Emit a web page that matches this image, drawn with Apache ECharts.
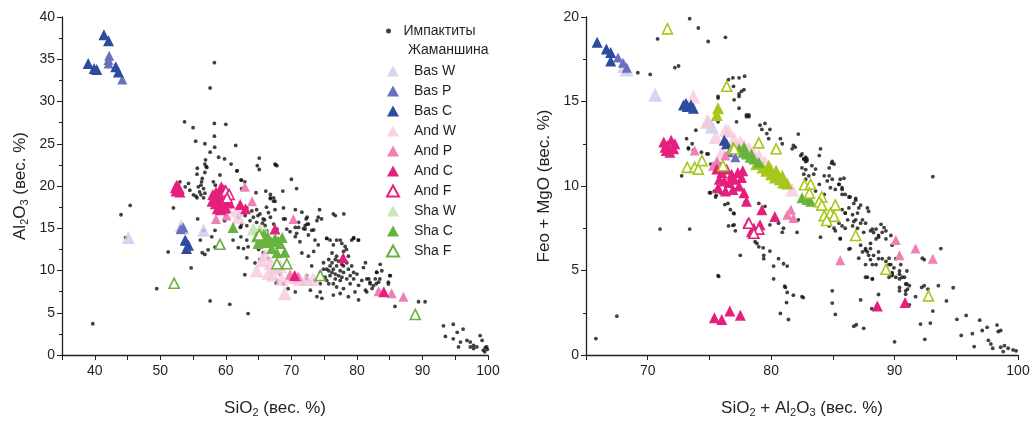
<!DOCTYPE html>
<html lang="ru">
<head>
<meta charset="UTF-8">
<title>Импактиты и жаманшины</title>
<script src="https://cdn.jsdelivr.net/npm/echarts@6/dist/echarts.min.js"></script>
<style>
html,body{margin:0;padding:0;background:#fff}
#chartBox{width:1034px;height:423px}
</style>
</head>
<body>
<div id="chartBox"></div>
<script>
// ---- левая панель: SiO2 / Al2O3 ----
const impLeft = [
 [58.25,34.6],[57.6,31.6],[53.7,27.6],[55.0,26.9],[58.25,27.4],[60.0,27.3],[58.25,25.9],[55.4,25.3],[56.8,25.0],[58.3,24.6],
 [61.5,24.8],[57.6,24.0],[58.9,23.4],[59.8,23.2],[56.9,23.1],[56.8,22.6],[57.0,22.3],[55.65,22.1],[55.6,21.4],[60.8,22.6],
 [65.1,23.3],[64.8,22.4],[65.1,21.95],[67.5,22.6],[67.8,22.4],[67.6,22.5],[61.7,21.8],[59.1,21.3],[56.8,21.6],[57.1,22.2],
 [56.4,20.9],[56.3,20.5],[56.2,20.1],[56.6,19.7],[56.0,19.3],[56.2,18.96],[55.45,18.8],[55.05,18.96],[55.6,18.6],[56.6,18.6],
 [56.8,19.15],[55.8,19.9],[54.3,20.3],[53.8,19.9],[53.0,20.5],[58.1,20.5],[58.4,20.1],[54.5,19.5],
 [62.4,20.7],[62.9,20.5],[62.4,19.7],[64.6,19.2],[66.1,19.4],[66.8,19.0],[67.3,18.6],[66.8,18.5],[67.5,18.2],[68.7,19.4],
 [70.0,20.8],[70.8,19.7],[52.0,17.4],[62.3,20.7],[61.7,21.8],
 [63.2,17.4],[63.96,17.05],[64.7,17.2],[65.2,16.7],[64.2,16.3],[63.7,15.9],[64.7,15.7],[65.7,16.1],[66.5,16.85],[66.8,16.3],
 [67.3,15.5],[67.5,17.2],[66.0,15.3],[65.2,14.7],[66.25,14.7],[67.8,14.9],[62.94,16.5],[63.2,15.3],[61.9,16.3],[62.3,15.2],
 [68.8,17.4],[69.05,16.1],[70.6,17.2],[71.1,15.7],[72.4,15.5],[72.25,16.1],[74.3,17.2],[74.1,16.3],[74.6,16.1],[76.4,16.7],
 [76.7,16.5],[66.8,18.6],[67.3,18.2],[65.9,16.0],[64.9,16.5],[66.2,17.5],[65.6,15.6],
 [71.6,16.9],[72.4,16.3],[68.8,16.1],[69.3,14.9],[70.6,15.1],[70.8,14.4],[72.1,14.9],[73.6,13.6],[75.4,13.8],[76.9,13.6],
 [44.0,16.6],[45.4,17.7],[44.7,13.9],[49.45,7.85],[51.2,12.2],[54.7,10.3],[55.7,16.1],[56.6,14.75],[56.1,13.6],[56.4,12.1],
 [56.8,11.9],[57.3,12.45],[58.35,12.76],[57.85,13.98],[58.35,14.75],[59.4,17.2],[59.8,15.9],[61.9,12.7],[62.7,12.6],[62.3,13.98],
 [63.2,11.5],[63.4,12.8],[62.9,9.5],[61.1,13.6],[62.2,15.1],[67.7,8.5],[57.6,6.4],[60.6,6.0],[63.4,4.9],[39.7,3.7],
 [62.4,15.5],[65.2,14.4],[65.5,13.2],[66.2,13.6],[65.0,12.5],[65.7,12.1],[65.2,11.3],[66.5,11.4],[64.45,10.9],[67.8,10.2],
 [68.3,9.6],[67.8,8.8],[68.8,8.4],[69.8,9.0],[70.6,8.6],[71.8,8.4],[72.3,9.0],[69.5,7.85],[70.6,7.47],[63.2,13.6],
 [69.8,14.6],[70.6,14.0],[71.3,13.4],[72.6,14.2],[73.4,14.8],[73.9,15.9],[72.1,15.3],[71.1,15.1],[78.0,16.7],[79.5,13.8],
 [79.2,13.6],[80.2,13.6],[78.4,12.5],
 [71.85,14.95],[72.6,15.5],[73.1,14.75],[71.6,12.07],[73.4,12.26],[75.4,13.8],[75.9,13.6],[76.4,13.03],[77.45,13.6],[77.7,13.2],
 [78.2,12.84],[79.5,13.9],[80.25,13.6],[77.95,12.26],[76.9,11.69],[76.2,12.07],[75.7,11.3],[74.9,10.92],[75.4,10.16],[75.9,10.54],
 [76.4,10.16],[76.9,10.54],[77.45,9.97],[76.7,9.58],[75.9,9.39],[75.15,9.2],[74.4,9.77],[77.95,9.77],[78.7,10.16],[78.97,9.39],
 [78.45,9.0],[77.45,8.82],[76.4,8.43],[75.7,8.43],[74.4,8.43],[76.9,8.05],[77.95,7.86],[78.97,8.43],[79.5,9.0],[80.0,9.58],
 [81.0,10.35],[81.3,10.92],[80.75,8.82],[80.25,8.24],[79.7,7.47],[81.8,9.0],[82.0,8.43],[82.8,9.0],[83.05,9.77],[83.55,10.73],
 [83.3,8.62],[83.8,9.97],[82.3,7.86],[81.3,7.67],[78.7,6.9],[76.4,7.09],[74.4,7.47],[73.9,6.9],[74.65,6.71],[77.45,7.28],
 [80.25,6.52],[81.5,7.47],[85.1,9.39],[84.8,8.62],[82.95,8.43],[72.6,11.69],[73.1,10.54],[72.35,9.39],[73.6,8.82],[72.9,7.67],
 [78.7,11.69],[74.1,13.03],[76.2,10.92],[76.7,11.3],[77.2,11.1],[77.7,10.73],[75.7,9.97],[76.2,9.77],[77.2,9.39],[77.7,9.2],
 [76.7,9.0],[75.4,8.82],[74.9,10.16],[77.95,10.54],[78.45,10.92],[79.2,10.54],[79.5,9.77],
 [83.0,9.8],[83.5,9.0],[84.8,8.4],[85.0,9.4],[82.5,8.2],[82.0,8.6],[81.5,9.0],[83.3,7.65],[85.8,5.75],[89.4,6.3],[90.4,6.3],
 [93.2,3.45],[94.7,3.64],[96.2,3.07],[93.5,2.2],[95.3,2.68],[94.7,1.92],[95.8,1.53],[96.8,1.72],[95.5,0.95],[97.3,1.53],
 [97.8,1.15],[98.8,2.3],[99.1,1.72],[98.3,0.95],[99.8,0.95],[99.9,0.66],[99.3,0.57],[97.3,0.95],[97.8,0.77],[99.6,0.9],[99.5,0.38]
];
const basWLeft = [[45.1,13.9],[53.5,15.0],[53.2,15.3],[56.6,14.75]];
const basPLeft = [[42.2,35.4],[42.1,34.9],[42.1,34.5],[44.2,32.6],[53.5,15.1],[53.9,13.5],[53.1,14.9]];
const basCLeft = [[39.0,34.5],[39.9,33.9],[40.3,33.8],[41.4,37.9],[42.1,37.2],[43.2,34.1],[43.6,33.5],[53.8,13.6],[54.3,13.0],[54.0,12.6]];
const andWLeft = [[64.7,10.0],[69.0,7.3],[68.3,10.5],[69.8,9.4],[71.3,9.0],[73.3,9.0],[66.0,11.9],[66.8,10.9],[67.5,10.3],[61.9,16.3],
 [66.5,9.7],[70.5,9.2],[72.3,9.0],[65.5,11.2],[60.1,17.6],[61.7,17.1],[67.2,9.5],[68.5,9.0]];
const andPLeft = [[62.9,19.9],[64.0,18.2],[58.5,16.1],[60.1,16.5],[70.3,16.1],[83.3,7.55],[85.3,7.3],[87.1,6.9],[69.8,9.5],[71.0,9.3]];
const andCLeft = [[52.3,19.8],[52.6,19.9],[52.9,19.7],[52.4,19.4],[52.8,19.5],[53.0,19.3],[52.5,20.1],
 [58.0,19.0],[58.5,19.3],[59.0,19.0],[58.2,18.5],[58.8,18.6],[59.4,18.4],[58.4,17.9],[59.0,17.9],[59.6,17.6],[58.7,17.3],
 [59.2,17.2],[60.0,17.4],[59.7,19.6],[59.3,19.9],[60.6,18.0],[57.9,18.2],
 [62.2,17.8],[63.0,17.3],[67.5,14.9],[77.9,11.5],[84.1,7.5],[70.5,9.4]];
const andFLeft = [[60.0,19.4],[60.5,19.0],[60.2,18.6]];
const shaWLeft = [[64.2,14.9],[65.2,14.9],[66.0,14.5]];
const shaCLeft = [[61.1,15.1],[64.7,14.0],[65.3,13.6],[65.8,14.3],[66.3,13.6],[66.9,13.4],[67.5,13.8],[68.0,13.5],[68.3,13.2],[65.9,13.3],
 [67.0,12.6],[67.8,12.1],[69.0,12.15],[66.4,14.0],[64.9,13.2],[68.6,13.9]];
const shaFLeft = [[59.1,13.1],[67.8,10.8],[69.3,10.8],[74.4,9.4],[88.9,4.8],[52.1,8.5],[65.1,14.2]];

// ---- правая панель: SiO2+Al2O3 / FeO+MgO ----
const impRight = [
 [73.4,19.9],[74.1,19.35],[74.9,18.55],[76.3,18.8],[70.8,18.7],[72.2,17.0],[72.5,17.1],[69.2,16.7],[70.2,16.6],[75.7,15.3],
 [76.55,16.3],[76.9,16.4],[76.95,15.9],[77.4,16.4],[77.85,16.5],[77.8,15.7],[77.4,15.45],[77.4,15.3],[77.6,15.6],[78.0,14.2],
 [78.2,14.2],[75.7,13.8],[77.2,13.8],[73.9,13.3],[73.15,12.8],[73.3,12.25],[74.9,11.9],[72.75,10.6],[75.1,11.3],[75.9,11.3],
 [71.0,7.45],[73.4,7.45],[73.6,12.5],[73.3,12.2],[75.7,15.2],[77.0,15.1],[77.4,14.6],[78.0,14.1],[78.2,14.1],[79.1,13.6],
 [79.25,13.35],[79.5,13.7],[79.9,13.35],[79.65,13.1],[79.8,12.8],
 [80.75,12.8],[80.9,12.5],[82.2,13.07],[81.8,12.4],[81.95,12.3],[81.7,12.2],[82.5,11.9],[82.8,11.7],[82.65,11.6],[82.9,11.5],
 [83.3,11.2],[83.6,11.0],[84.0,12.2],[84.9,11.35],[84.7,10.6],[85.5,10.1],[85.75,9.8],[86.0,9.5],[86.4,9.35],[86.85,9.16],
 [87.1,8.7],[86.0,8.4],[86.85,8.0],[87.65,7.8],[88.2,7.45],[88.3,7.25],[88.7,7.07],[89.3,7.35],[89.7,7.07],[89.8,6.5],
 [90.1,5.7],[90.4,4.97],[90.8,4.6],[91.0,4.2],[90.9,3.8],[90.4,4.0],[89.55,4.6],[88.2,5.35],[87.65,6.2],[87.25,6.5],
 [88.05,6.3],[88.7,6.1],[89.0,5.7],[89.55,5.35],[89.8,4.8],[90.5,5.35],[91.0,4.97],
 [77.5,5.9],[75.7,4.7],[78.85,6.6],[79.0,6.4],[79.4,5.9],[80.2,5.26],[81.0,5.4],[81.3,5.26],[80.2,4.5],[81.15,4.0],
 [81.3,3.7],[82.5,3.45],[81.4,2.1],[80.75,2.46],[84.95,3.8],[84.95,3.07],[85.2,2.4],[86.7,1.7],[87.5,1.58],[87.25,3.26],
 [86.4,6.3],[85.6,6.9],[84.0,6.97],[80.2,8.1],[79.9,7.7],[80.9,7.26],[81.0,7.5],[80.6,7.8],[82.2,8.0],[82.1,7.26],
 [79.0,8.97],[79.5,8.8],[77.9,9.07],[76.7,8.6],[76.95,8.4],[75.9,9.6],[75.1,9.6],[75.5,9.35],[76.55,7.64],[77.0,7.7],
 [65.8,0.97],[67.5,2.3],[73.7,12.1],[74.35,12.0],[74.8,11.9],[75.0,9.6],[75.4,9.7],[75.55,9.45],[75.75,4.65],[76.9,7.67],
 [77.1,7.35],[76.25,8.9],[76.5,8.97],[77.0,8.36],[78.7,6.7],[79.35,6.34],[79.4,5.7],[79.9,6.15],[80.6,5.7],
 [81.1,4.07],[81.8,3.54],[82.6,3.4],[81.25,3.1],[86.9,1.79],[87.8,4.6],[88.2,4.5],[88.7,3.58],[88.15,2.74],[90.0,0.78],
 [89.8,4.7],[90.4,4.5],[90.9,4.2],[91.05,3.9],[91.2,4.1],[90.4,3.8],[90.9,3.6],[91.7,3.45],[92.2,4.0],[92.4,4.1],
 [92.7,3.9],[93.55,4.1],[94.75,3.98],[94.2,3.2],[93.1,2.6],[92.9,1.89],[92.1,1.83],[92.45,0.93],[91.2,2.97],
 [95.05,2.11],[95.8,2.34],[95.4,1.16],[96.3,1.26],[96.45,0.5],[96.9,2.06],[97.1,1.45],[97.5,1.64],[97.6,0.87],[97.8,0.65],
 [97.95,0.4],[98.3,1.77],[98.4,1.39],[98.6,1.45],[98.6,0.46],[98.9,0.55],[99.2,0.4],[99.6,0.3],[99.85,0.25],[98.8,0.2],
 [82.4,11.8],[82.65,11.6],[82.9,11.6],[82.8,11.45],[82.5,11.07],[82.8,10.97],[82.65,10.7],[83.05,10.6],[83.45,10.7],[82.8,10.4],
 [83.9,11.8],[84.95,11.45],[85.1,11.3],[84.7,11.07],[84.3,10.6],[84.55,10.3],[84.95,10.4],[85.6,10.4],[85.9,10.46],
 [85.5,10.1],[85.75,9.9],[85.2,9.8],[84.8,9.9],[83.9,10.1],[83.6,9.7],[84.3,9.5],[85.75,9.5],[86.3,9.35],[86.85,9.26],
 [86.7,8.97],[87.25,8.87],[86.3,8.7],[85.75,8.6],[86.0,8.4],[86.6,8.3],[87.0,8.4],[87.8,8.7],[87.9,8.5],[86.2,8.0],
 [86.7,7.9],[87.25,7.8],[87.4,8.0],[85.5,7.8],[85.75,7.64],[85.2,7.35],[85.1,7.5],[84.7,7.64],[86.0,7.5],[86.6,7.64],
 [87.0,7.5],[87.5,7.26],[88.05,7.35],[88.5,7.45],[88.9,7.73],[89.15,7.54],[89.0,7.26],[89.3,6.87],[88.7,6.97],[88.5,6.87],
 [88.05,6.6],[87.65,6.3],[87.4,6.1],[87.8,6.1],[87.9,5.9],[88.3,5.9],[88.7,5.7],[88.05,5.64],[87.65,5.35],[88.5,5.35],
 [89.3,5.54],[89.55,5.73],[89.7,5.35],[89.95,5.16],[89.8,4.87],[90.4,4.78],[90.6,4.6],[90.1,4.6],[87.65,4.6],[88.2,4.5],
 [85.6,6.87],[86.3,6.27],[87.1,5.73],[93.75,6.3],[93.1,10.55],[92.25,5.73],[92.4,5.64]
];
const basWRight = [[70.6,15.4],[68.3,16.9],[75.2,13.5],[74.9,13.8],[68.1,17.1]];
const basPRight = [[67.6,17.6],[68.0,17.3],[68.3,17.0],[77.1,11.7],[76.6,12.0]];
const basCRight = [[65.9,18.5],[66.65,18.1],[67.0,17.9],[67.0,17.4],[72.9,14.8],[73.2,14.7],[73.5,14.8],[73.7,14.6],[73.1,14.9],[76.4,12.5],[76.2,12.7]];
const andWRight = [[73.7,15.3],[76.3,13.3],[75.5,12.9],[77.0,12.8],[77.8,12.4],[78.5,12.0],[79.0,11.8],[80.0,11.0],[81.0,10.3],[81.7,9.8],
 [74.8,13.8],[76.0,12.0],[76.55,13.26],[77.5,12.6],[78.2,12.2],[79.5,11.4],[80.5,10.7]];
const andPRight = [[73.8,12.1],[81.6,8.6],[81.8,8.1],[90.1,6.8],[91.7,6.3],[90.4,5.9],[93.1,5.7],[85.6,5.6],[75.7,11.35],[76.3,11.8],
 [75.6,11.45],[75.3,11.2],[81.3,8.3]];
const andCRight = [[71.3,12.6],[71.6,12.4],[71.9,12.7],[72.2,12.5],[71.5,12.1],[71.8,12.0],[72.1,12.2],[71.4,12.3],
 [75.6,11.0],[76.0,10.8],[76.4,11.0],[76.8,10.7],[75.8,10.4],[76.2,10.3],[76.6,10.2],[77.0,10.4],[77.3,10.8],[77.6,10.5],
 [75.7,9.9],[76.3,9.7],[76.9,9.8],[77.4,10.0],[77.8,9.6],[77.7,10.9],
 [78.0,9.1],[79.25,8.6],[80.3,8.2],[88.6,2.9],[90.85,3.1],[75.4,2.2],[76.0,2.1],[76.65,2.6],[77.5,2.35],[78.1,7.8],[78.6,7.5],[79.1,7.7],[78.4,7.3]];
const andFRight = [[78.2,7.8],[79.0,7.45],[78.6,7.2]];
const shaWRight = [[79.3,11.1],[79.6,10.9],[80.0,10.7],[80.3,10.5],[80.7,10.4],[81.0,10.2],[81.3,10.15],[79.8,11.2],[80.4,10.9],[80.9,10.6],[75.7,14.6],[75.6,14.2],[78.8,11.3]];
const shaCRight = [[77.4,12.2],[77.7,12.0],[78.0,11.9],[78.3,11.7],[78.6,11.6],[79.0,11.4],[77.8,12.3],[78.4,11.9],[82.5,9.3],[82.9,9.2],[83.2,9.1]];
const shaFRight = [[71.6,19.3],[76.4,15.9],[73.2,11.1],[73.8,11.1],[74.1,11.0],[74.4,11.5],[76.1,11.2],[76.9,12.25],[79.0,12.55],[80.4,12.2],
 [77.0,12.2],[82.7,10.07],[83.2,10.1],[83.1,9.58],[84.1,9.35],[83.9,9.07],[84.1,8.87],[85.2,8.87],[84.3,8.25],[84.8,8.4],
 [85.1,8.2],[84.5,7.96],[86.85,7.07],[89.3,5.07],[92.75,3.5]];

// подписи делений
const leftXLabels = ['40','50','60','70','80','90','100'];
const rightXLabels = ['70','80','90','100'];

const FONT = 'Liberation Sans, Arial, sans-serif';

// стиль серий
function tri(name, data, panel, size, fill, stroke, op) {
    return {
        type: 'scatter', name: name, data: data,
        xAxisIndex: panel, yAxisIndex: panel,
        symbol: 'triangle', symbolSize: size,
        itemStyle: {color: fill, borderColor: stroke || fill, borderWidth: stroke ? 1.6 : 0, opacity: op || 1},
        emphasis: {disabled: true}
    };
}
function dots(data, panel) {
    return {
        type: 'scatter', name: 'Импактиты', data: data,
        xAxisIndex: panel, yAxisIndex: panel,
        symbol: 'circle', symbolSize: 3.8,
        itemStyle: {color: '#111'}, emphasis: {disabled: true}
    };
}

function xAxis(grid, min, labels, name) {
    return {
        type: 'value', gridIndex: grid, min: min, max: 100, interval: 5,
        axisLine: {onZero: false, lineStyle: {color: '#231f20', width: 1.3}},
        axisTick: {length: 5, lineStyle: {color: '#231f20'}},
        axisLabel: {color: '#231f20', fontSize: 14, fontFamily: FONT, margin: 9,
            formatter: v => labels.indexOf(String(v)) >= 0 ? String(v) : ''},
        splitLine: {show: false},
        name: name, nameLocation: 'middle', nameGap: 43,
        nameTextStyle: {color: '#231f20', fontSize: 17, fontFamily: FONT, lineHeight: 20,
            rich: {s: {fontSize: 11, lineHeight: 11, verticalAlign: 'bottom', fontFamily: FONT, color: '#231f20'}}}
    };
}
function yAxis(grid, max, name, gap) {
    return {
        type: 'value', gridIndex: grid, min: 0, max: max, interval: 5,
        axisLine: {show: true, lineStyle: {color: '#231f20', width: 1.3}},
        axisTick: {show: true, length: 5, lineStyle: {color: '#231f20'}},
        minorTick: {show: true, splitNumber: 2, length: 3, lineStyle: {color: '#231f20'}},
        axisLabel: {color: '#231f20', fontSize: 14, fontFamily: FONT, margin: 7},
        splitLine: {show: false},
        name: name, nameLocation: 'middle', nameGap: gap,
        nameTextStyle: {color: '#231f20', fontSize: 17, fontFamily: FONT, lineHeight: 20,
            rich: {s: {fontSize: 11, lineHeight: 11, verticalAlign: 'bottom', fontFamily: FONT, color: '#231f20'}}}
    };
}

const C = {
    basW: '#cdcfec', basP: '#6a70bd', basC: '#2d4b9f',
    andW: '#f6c9dd', andP: '#ef80b3', andC: '#e5207c',
    shaW: '#bfe0ad', shaC: '#67b33e', yel: '#a6c71c'
};

const series = [
    dots(impLeft, 0),
    tri('Bas W', basWLeft, 0, 13, C.basW, null, 0.85),
    tri('And W', andWLeft, 0, 14, C.andW, null, 0.8),
    tri('Sha W', shaWLeft, 0, 13, C.shaW, null, 0.85),
    tri('Bas P', basPLeft, 0, 10, C.basP),
    tri('Bas C', basCLeft, 0, 11, C.basC),
    tri('And P', andPLeft, 0, 10, C.andP),
    tri('And C', andCLeft, 0, 11, C.andC),
    tri('And F', andFLeft, 0, 10, '#fff', C.andC),
    tri('Sha C', shaCLeft, 0, 11, C.shaC),
    tri('Sha F', shaFLeft, 0, 10, '#fff', C.shaC),

    dots(impRight, 1),
    tri('Bas W', basWRight, 1, 14, C.basW, null, 0.85),
    tri('And W', andWRight, 1, 14, C.andW, null, 0.8),
    tri('Bas P', basPRight, 1, 10, C.basP),
    tri('Bas C', basCRight, 1, 11, C.basC),
    tri('And P', andPRight, 1, 10, C.andP),
    tri('And C', andCRight, 1, 11, C.andC),
    tri('And F', andFRight, 1, 10, '#fff', C.andC),
    tri('Sha W', shaWRight, 1, 12, C.yel),
    tri('Sha C', shaCRight, 1, 11, C.shaC),
    tri('Sha F', shaFRight, 1, 10, '#fff', C.yel)
];

const option = {
    animation: false,
    grid: [
        {left: 62, top: 17, width: 426, height: 348},
        {left: 586, top: 17, width: 432, height: 350}
    ],
    xAxis: [
        xAxis(0, 35, leftXLabels, 'SiO{s|2} (вес. %)'),
        xAxis(1, 65, rightXLabels, 'SiO{s|2} + Al{s|2}O{s|3} (вес. %)')
    ],
    yAxis: [
        yAxis(0, 40, 'Al{s|2}O{s|3} (вес. %)', 32),
        yAxis(1, 20, 'Feo + MgO (вес. %)', 32)
    ],
    legend: [
        {
            orient: 'vertical', left: 381, top: 19, itemWidth: 14, itemHeight: 5, itemGap: 6,
            selectedMode: false,
            textStyle: {fontSize: 14, fontFamily: FONT, color: '#231f20', padding: [0, 0, 0, 3]},
            data: [{name: 'Импактиты', icon: 'circle'}]
        },
        {
            orient: 'vertical', left: 381, top: 59, itemWidth: 12, itemHeight: 11, itemGap: 6,
            selectedMode: false,
            textStyle: {fontSize: 14, fontFamily: FONT, color: '#231f20', padding: [0, 0, 0, 10]},
            data: ['Bas W', 'Bas P', 'Bas C', 'And W', 'And P', 'And C', 'And F', 'Sha W', 'Sha C', 'Sha F']
                .map(n => ({name: n, icon: 'triangle'}))
        }
    ],
    graphic: [{
        type: 'text', left: 408, top: 43,
        style: {text: 'Жаманшина', fontSize: 14, fontFamily: FONT, fill: '#231f20'}
    }],
    series: series
};

let chartObj = echarts.init(document.getElementById('chartBox'));
chartObj.setOption(option);
</script>
</body>
</html>
